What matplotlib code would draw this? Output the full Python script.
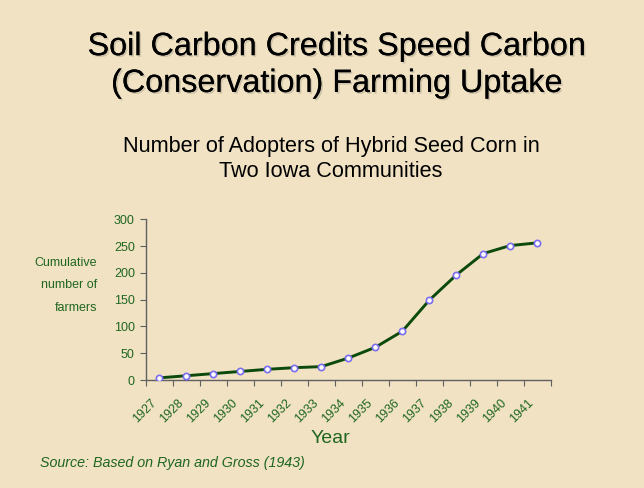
import matplotlib
matplotlib.use("Agg")
import matplotlib.pyplot as plt
import matplotlib.patheffects as pe
import matplotlib.transforms as mtransforms
import numpy as np

# Data
years = ["1927", "1928", "1929", "1930", "1931", "1932", "1933", "1934",
         "1935", "1936", "1937", "1938", "1939", "1940", "1941"]
adopters = [4, 8, 12, 16, 20, 23, 25, 41, 61, 91, 149, 196, 236, 251, 256]
y_ticks = [0, 50, 100, 150, 200, 250, 300]

bg = "#f0e2c3"
green_txt = "#1f661f"
line_col = "#0b4a0b"
marker_edge = "#7b6cf0"

plt.rcParams["font.family"] = ["Liberation Sans", "DejaVu Sans"]

fig = plt.figure(figsize=(6.44, 4.88), dpi=100, facecolor=bg)
ax = fig.add_axes([0.2267, 0.2213, 0.6284, 0.3293])
ax.set_facecolor(bg)

x = np.arange(len(years))
ax.plot(x, adopters, color=line_col, lw=2.1, marker="o", ms=4.5,
        mfc="white", mec=marker_edge, mew=1.2, zorder=3)

ax.set_xlim(-0.5, len(years) - 0.5)
ax.set_ylim(0, 300)
ax.set_yticks(y_ticks)
ax.tick_params(axis="y", colors="#606060", labelcolor=green_txt,
               labelsize=9, length=4, pad=4)

# tick marks at category boundaries, labels at centres
ax.set_xticks(np.arange(len(years) + 1) - 0.5)
ax.set_xticklabels([])
ax.set_xticks(x, minor=True)
ax.set_xticklabels(years, minor=True, rotation=45, ha="right",
                   va="center", rotation_mode="anchor")
ax.tick_params(axis="x", which="major", colors="#606060", length=4)
ax.tick_params(axis="x", which="minor", length=0, labelcolor=green_txt,
               labelsize=9, pad=15)
offset = mtransforms.ScaledTranslation(-0.05, 0, fig.dpi_scale_trans)
for lab in ax.get_xticklabels(minor=True):
    lab.set_transform(lab.get_transform() + offset)

for s in ["top", "right"]:
    ax.spines[s].set_visible(False)
for s in ["left", "bottom"]:
    ax.spines[s].set_color("#606060")
    ax.spines[s].set_linewidth(1.0)

shadow = [pe.withSimplePatchShadow(offset=(1.2, -1.2), shadow_rgbFace="#b0a690",
                                   alpha=0.5), pe.Normal()]
fig.text(0.523, 0.887, "Soil Carbon Credits Speed Carbon", ha="center",
         va="baseline", fontsize=23.3, color="black", path_effects=shadow)
fig.text(0.523, 0.8115, "(Conservation) Farming Uptake", ha="center",
         va="baseline", fontsize=23.3, color="black", path_effects=shadow)

fig.text(0.514, 0.6885, "Number of Adopters of Hybrid Seed Corn in",
         ha="center", va="baseline", fontsize=15.6, color="black")
fig.text(0.514, 0.6373, "Two Iowa Communities",
         ha="center", va="baseline", fontsize=15.6, color="black")

for txt, yy in [("Cumulative", 0.4549), ("number of", 0.4098), ("farmers", 0.3627)]:
    fig.text(0.1506, yy, txt, ha="right", va="baseline", fontsize=9,
             color=green_txt)

fig.text(0.5124, 0.0922, "Year", ha="center", va="baseline", fontsize=14,
         color=green_txt)
fig.text(0.0621, 0.043, "Source: Based on Ryan and Gross (1943)", ha="left",
         va="baseline", fontsize=10.3, style="italic", color=green_txt)

fig.savefig("out.png", dpi=100, facecolor=bg)
